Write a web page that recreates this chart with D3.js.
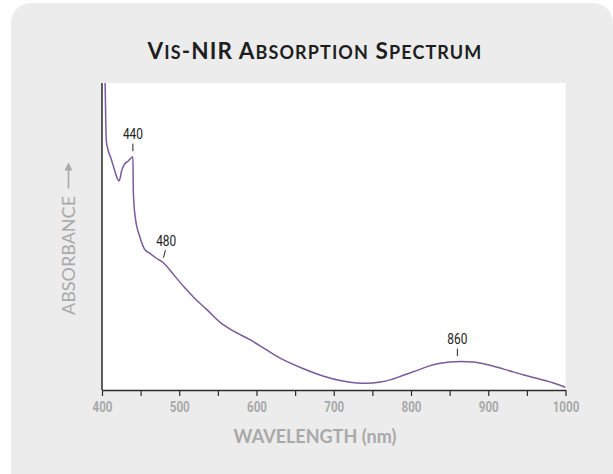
<!DOCTYPE html>
<html>
<head>
<meta charset="utf-8">
<script src="https://cdn.jsdelivr.net/npm/d3@7"></script>
<style>
html, body { margin: 0; padding: 0; background: #ffffff; }
svg { display: block; }
</style>
</head>
<body>
<svg id="chart" width="613" height="474"></svg>
<script>
// ---- data ----
const wavelengths = [400, 404, 405.5, 408, 411, 414, 417, 420, 422, 423.5, 425, 428.5, 434, 440,
  440.6, 443, 449, 455, 462, 470, 480, 493, 506, 518, 536, 553, 568, 592, 612, 635, 660, 687,
  710, 730, 743, 760, 773, 790, 808, 822, 836, 850, 865, 880, 898, 920, 946, 975, 1000];
const absorbance = [1.25, 1.00, 0.814, 0.78, 0.759, 0.735, 0.710, 0.688, 0.681, 0.690, 0.710, 0.733, 0.746, 0.760,
  0.642, 0.564, 0.499, 0.459, 0.445, 0.430, 0.413, 0.375, 0.336, 0.304, 0.261, 0.220, 0.195, 0.163, 0.132, 0.098, 0.070, 0.045,
  0.030, 0.023, 0.022, 0.026, 0.033, 0.048, 0.064, 0.077, 0.086, 0.091, 0.093, 0.091, 0.083, 0.068, 0.049, 0.030, 0.009];
const xTickMarks = [400, 450, 500, 550, 600, 650, 700, 750, 800, 850, 900, 950, 1000];
const xTickLabels = [400, 500, 600, 700, 800, 900, 1000];
const peakLabels = [440, 480, 860];
const peakSlant = [0, 1.6, 0];
// title in small caps: [text, isFullCap]
const titleParts = [["V", 1], ["IS", 0], ["-NIR A", 1], ["BSORPTION", 0], [" S", 1], ["PECTRUM", 0]];
const xTitle = "WAVELENGTH (nm)";
const yTitle = "ABSORBANCE";

const data = wavelengths.map((w, i) => ({ w, a: absorbance[i] }));

const svg = d3.select("#chart");
const plot = { left: 102, right: 565.5, top: 83, bottom: 390 };
const narrowFont = "Roboto, 'Liberation Sans', sans-serif";

// panel background
svg.append("rect").attr("x", 11).attr("y", 3).attr("width", 602).attr("height", 500)
  .attr("rx", 20).attr("ry", 20).attr("fill", "#ececec");

// plot area
svg.append("rect").attr("x", plot.left).attr("y", plot.top)
  .attr("width", plot.right - plot.left).attr("height", plot.bottom - plot.top)
  .attr("fill", "#ffffff");

const x = d3.scaleLinear().domain([400, 1000]).range([plot.left, plot.right]);
const y = d3.scaleLinear().domain([0, 1]).range([plot.bottom, plot.top]);

// title
const title = svg.append("text").attr("x", 315).attr("y", 59).attr("text-anchor", "middle")
  .attr("font-family", "Lato, 'Open Sans', sans-serif").attr("font-weight", 700)
  .attr("fill", "#1e1e1e").attr("letter-spacing", 1.1);
title.selectAll("tspan").data(titleParts).join("tspan")
  .attr("font-size", d => d[1] ? 22.5 : 18)
  .text(d => d[0]);

// clip
svg.append("clipPath").attr("id", "clip").append("rect")
  .attr("x", plot.left).attr("y", plot.top)
  .attr("width", plot.right - plot.left).attr("height", plot.bottom - plot.top);

const line = d3.line().x(d => x(d.w)).y(d => y(d.a)).curve(d3.curveMonotoneX);
svg.append("path").datum(data).attr("d", line).attr("clip-path", "url(#clip)")
  .attr("fill", "none").attr("stroke", "#7a5a9c").attr("stroke-width", 1.5)
  .attr("stroke-linejoin", "round");

// y axis line
svg.append("line").attr("x1", plot.left).attr("x2", plot.left)
  .attr("y1", plot.top).attr("y2", plot.bottom)
  .attr("stroke", "#2a2a2a").attr("stroke-width", 1.5);

// x axis
const xAxis = d3.axisBottom(x).tickValues(xTickMarks).tickSize(6).tickSizeOuter(0)
  .tickFormat(d => xTickLabels.includes(d) ? d : "");
const gx = svg.append("g").attr("transform", `translate(0,${plot.bottom})`).call(xAxis);
gx.select(".domain").attr("stroke", "#2a2a2a").attr("stroke-width", 1.5);
gx.selectAll(".tick line").attr("stroke", "#2a2a2a").attr("stroke-width", 1.2);
gx.selectAll(".tick text")
  .attr("font-family", narrowFont)
  .attr("font-weight", 700).attr("font-size", 14.5).attr("fill", "#a9a9a9")
  .attr("y", 0).attr("dy", null)
  .attr("transform", "translate(0,22) scale(0.8,1)");

// x title
svg.append("text").attr("x", 315).attr("y", 442.5).attr("text-anchor", "middle")
  .attr("font-family", "Lato, 'Open Sans', sans-serif").attr("font-weight", 700)
  .attr("font-size", 18).attr("fill", "#a9a9a9").text(xTitle);

// y title (rotated) with arrow
const gy = svg.append("g").attr("transform", "translate(75,255.5) rotate(-90)");
gy.append("text").attr("x", 0).attr("y", 0).attr("text-anchor", "middle")
  .attr("font-family", "Lato, 'Open Sans', sans-serif").attr("font-weight", 400)
  .attr("font-size", 18).attr("fill", "#a9a9a9").text(yTitle);
gy.append("line").attr("x1", 67).attr("x2", 90).attr("y1", -6.5).attr("y2", -6.5)
  .attr("stroke", "#a9a9a9").attr("stroke-width", 1.6);
gy.append("path").attr("d", "M93,-6.5 L85,-10.5 L85,-2.5 Z").attr("fill", "#a9a9a9");

// peak annotations
function valueAt(w) {
  const i = d3.bisector(d => d.w).left(data, w);
  if (i <= 0) return data[0].a;
  if (i >= data.length) return data[data.length - 1].a;
  const a = data[i - 1], b = data[i];
  return a.a + (b.a - a.a) * (w - a.w) / (b.w - a.w);
}
peakLabels.forEach((p, i) => {
  const px = x(p), py = y(valueAt(p));
  const s = peakSlant[i];
  svg.append("line").attr("x1", px - s * 0.2).attr("x2", px + s)
    .attr("y1", py - 5.5).attr("y2", py - 13)
    .attr("stroke", "#222").attr("stroke-width", 1);
  svg.append("text").attr("text-anchor", "middle")
    .attr("transform", `translate(${px + s * 1.5},${py - 17.5}) scale(0.82,1)`)
    .attr("font-family", narrowFont)
    .attr("font-size", 14.5).attr("fill", "#222").text(p);
});
</script>
</body>
</html>
